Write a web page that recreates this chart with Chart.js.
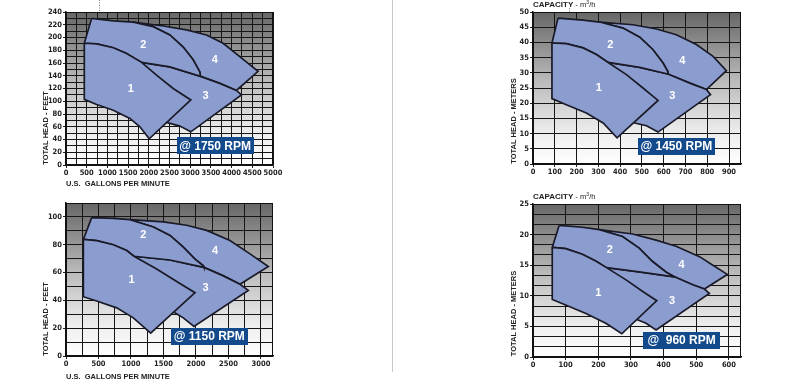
<!DOCTYPE html>
<html>
<head>
<meta charset="utf-8">
<script src="https://cdn.jsdelivr.net/npm/chart.js@4.4.1/dist/chart.umd.min.js"></script>
<style>
html, body { margin: 0; padding: 0; background: #fff; }
#wrap { position: relative; width: 797px; height: 387px; overflow: hidden; }
#wrap canvas { position: absolute; }
#divider { position: absolute; left: 392px; top: 0; width: 1px; height: 372px; background: #c9c9c9; }
</style>
</head>
<body>
<div id="wrap">
  <canvas id="c1750" width="290" height="195" style="left:0;top:0"></canvas>
  <canvas id="c1450" width="290" height="195" style="left:470px;top:0"></canvas>
  <canvas id="c1150" width="290" height="192" style="left:0;top:195px"></canvas>
  <canvas id="c960" width="290" height="197" style="left:470px;top:190px"></canvas>
  <div id="divider"></div>
</div>
<script>
// ---- 1750 RPM  (US GPM / feet) ----
var xLabels1750 = [0, 500, 1000, 1500, 2000, 2500, 3000, 3500, 4000, 4500, 5000];
var yLabels1750 = [0, 20, 40, 60, 80, 100, 120, 140, 160, 180, 200, 220, 240];
var zone1_1750 = [[442,191],[740,190],[1142,184],[1463,175],[1825,161],[2187,141],[2589,120],[3015,102],
                  [2010,41],[1785,60],[1544,73],[1142,86],[740,95],[442,103],[442,191]];
var zone2_1750 = [[619,230],[1142,226],[1624,224],[2107,217],[2508,204],[2830,185],[3071,165],[3232,146],[3248,139],
                  [2508,154],[1825,161],[1463,175],[1142,184],[740,190],[442,191],[619,230]];
var zone3_1750 = [[1825,161],[2508,154],[3248,139],[3714,128],[4116,117],[4237,110],[3015,52],[2750,61],[2468,66],
                  [2300,75],[1825,161]];
var zone4_1750 = [[1624,224],[2348,218],[2910,212],[3393,204],[3795,191],[4197,170],[4639,147],[4116,117],[3714,128],
                  [3248,139],[3232,146],[3071,165],[2830,185],[2508,204],[2107,217],[1624,224]];
var marks1750 = [[1568,120,'1'],[1865,188,'2'],[3369,108,'3'],[3594,165,'4']];
var rpm1750 = [3600, 30, '@ 1750 RPM'];

// ---- 1450 RPM  (m3/h / meters) ----
var xLabels1450 = [0, 100, 200, 300, 400, 500, 600, 700, 800, 900];
var yLabels1450 = [0, 5, 10, 15, 20, 25, 30, 35, 40, 45, 50];
var zone1_1450 = [[87,39.8],[153,39.6],[230,38.2],[291,36],[345,33.4],[429,29.4],[505,25],[574,20.9],
                  [386,8.6],[322,13.5],[245,16.8],[153,19.5],[87,21.5],[87,39.8]];
var zone2_1450 = [[115,48],[230,47.3],[306,46.7],[413,44.7],[490,41.7],[551,37.6],[597,33.2],[619,30.4],[619,29.6],
                  [490,31.8],[345,33.4],[291,36],[230,38.2],[153,39.6],[87,39.8],[115,48]];
var zone3_1450 = [[345,33.4],[490,31.8],[619,29.6],[720,26.6],[796,24.5],[815,22.8],[574,10.5],[521,12.6],[467,13.5],
                  [440,14.5],[345,33.4]];
var zone4_1450 = [[306,46.7],[459,45.8],[567,44.4],[658,42.5],[750,39.3],[827,35.4],[888,30.7],[796,24.5],[720,26.6],
                  [619,29.6],[619,30.4],[597,33.2],[551,37.6],[490,41.7],[413,44.7],[306,46.7]];
var marks1450 = [[302,25,'1'],[355,39,'2'],[640,22.3,'3'],[685,34,'4']];
var rpm1450 = [658, 5.9, '@ 1450 RPM'];

// ---- 1150 RPM  (US GPM / feet) ----
var xLabels1150 = [0, 500, 1000, 1500, 2000, 2500, 3000];
var yLabels1150 = [0, 20, 40, 60, 80, 100];
var zone1_1150 = [[267,83.8],[472,83],[728,80],[934,75.8],[1046,71.7],[1395,62.5],[1703,53.5],[1985,45.5],
                  [1303,16.5],[1036,27.4],[780,34.6],[472,39.5],[267,42.6],[267,83.8]];
var zone2_1150 = [[395,99.5],[728,99],[985,98],[1344,92.7],[1600,86.7],[1805,78.2],[1985,69.7],[2113,64.9],[2123,63.7],
                  [1600,69],[1046,71.7],[934,75.8],[728,80],[472,83],[267,83.8],[395,99.5]];
var zone3_1150 = [[1046,71.7],[1600,69],[2123,63.7],[2421,57.6],[2677,51.6],[2805,47.2],[1969,21.3],[1805,27.4],[1662,31.5],
                  [1550,33],[1046,71.7]];
var zone4_1150 = [[985,98],[1497,96.4],[1856,94],[2164,90.3],[2523,83],[2831,73.4],[3113,64.4],[2677,51.6],[2421,57.6],
                  [2123,63.7],[2113,64.9],[1985,69.7],[1805,78.2],[1600,86.7],[1344,92.7],[985,98]];
var marks1150 = [[1010,54.7,'1'],[1190,86.7,'2'],[2149,49,'3'],[2292,75.3,'4']];
var rpm1150 = [2205, 14.3, '@ 1150 RPM'];

// ---- 960 RPM  (m3/h / meters) ----
var xLabels960 = [0, 100, 200, 300, 400, 500, 600];
var yLabels960 = [0, 5, 10, 15, 20, 25];
var zone1_960 = [[59,17.9],[100,17.7],[151,16.8],[192,15.7],[225,14.6],[285,12.6],[336,10.7],[379,9.2],
                 [272,3.8],[223,5.5],[162,7.1],[100,8.5],[59,9.4],[59,17.9]];
var zone2_960 = [[80,21.5],[151,21.2],[203,20.8],[274,19.7],[325,17.8],[366,15.6],[407,13.9],[433,13.1],
                 [325,13.9],[225,14.6],[192,15.7],[151,16.8],[100,17.7],[59,17.9],[80,21.5]];
var zone3_960 = [[225,14.6],[325,13.9],[433,13.1],[489,11.8],[525,11.1],[540,10.4],[377,4.4],[346,5.5],[320,6.1],
                 [300,6.5],[225,14.6]];
var zone4_960 = [[203,20.8],[305,20.1],[377,19.1],[438,18.1],[510,16.4],[551,15],[595,13.5],[525,11.1],[489,11.8],
                 [433,13.1],[407,13.9],[366,15.6],[325,17.8],[274,19.7],[203,20.8]];
var marks960 = [[200,10.4,'1'],[235,17.5,'2'],[426,9.1,'3'],[455,15,'4']];
var rpm960 = [455, 2.7, '@  960 RPM'];

var TICK_FONT = { family: "'Liberation Sans Narrow', 'DejaVu Sans Condensed', Arial, sans-serif", size: 7.5, weight: 'bold' };
var ZONE_FILL = '#8b9dcf';
var ZONE_LINE = '#1a1a28';

function has(list, v) {
    for (var i = 0; i < list.length; i++) if (Math.abs(list[i] - v) < 1e-6) return true;
    return false;
}

function axis(max, step, labels, size, isX) {
    return {
        type: 'linear', min: 0, max: max,
        afterBuildTicks: function (s) {
            var t = [];
            for (var v = 0; v <= max + 1e-9; v += step) t.push({ value: +v.toFixed(4) });
            s.ticks = t;
        },
        afterFit: function (s) {
            if (isX) s.height = size; else s.width = size;
        },
        grid: {
            color: '#161616', lineWidth: 1, tickLength: 3,
            tickColor: function (c) { return c.tick && has(labels, c.tick.value) ? '#222' : 'rgba(0,0,0,0)'; }
        },
        border: { color: '#111', width: 1.5 },
        ticks: {
            autoSkip: false, maxRotation: 0, padding: 1, color: '#222', font: TICK_FONT,
            callback: function (v) { return has(labels, v) ? String(v) : ''; }
        }
    };
}

var decoPlugin = {
    id: 'deco',
    beforeDraw: function (chart) {
        var a = chart.chartArea, ctx = chart.ctx;
        var g = ctx.createLinearGradient(0, a.top, 0, a.bottom);
        g.addColorStop(0, '#666');
        g.addColorStop(0.45, '#bababa');
        g.addColorStop(0.8, '#eeeeee');
        g.addColorStop(1, '#ffffff');
        ctx.save();
        ctx.fillStyle = g;
        ctx.fillRect(a.left, a.top, a.right - a.left, a.bottom - a.top);
        ctx.restore();
    },
    beforeDatasetsDraw: function (chart) {
        var a = chart.chartArea, ctx = chart.ctx;
        ctx.save();
        ctx.strokeStyle = '#111';
        ctx.lineWidth = 1;
        ctx.strokeRect(a.left, a.top + 0.5, a.right - a.left - 0.5, a.bottom - a.top);
        ctx.restore();
    },
    afterDatasetsDraw: function (chart, args, opts) {
        var ctx = chart.ctx, sx = chart.scales.x, sy = chart.scales.y;
        ctx.save();
        ctx.fillStyle = '#fff';
        ctx.textAlign = 'center';
        ctx.textBaseline = 'middle';
        ctx.font = "bold 11px 'Liberation Sans', Arial, sans-serif";
        opts.marks.forEach(function (m) {
            ctx.fillText(m[2], sx.getPixelForValue(m[0]), sy.getPixelForValue(m[1]));
        });
        var bx = sx.getPixelForValue(opts.rpm[0]), by = sy.getPixelForValue(opts.rpm[1]);
        ctx.fillStyle = '#124a8c';
        ctx.fillRect(Math.round(bx - 38.5), Math.round(by - 8.5), 77, 17);
        ctx.fillStyle = '#fff';
        ctx.font = "bold 12px 'Liberation Sans', Arial, sans-serif";
        ctx.fillText(opts.rpm[2], bx, by + 0.5);
        ctx.restore();
    },
    afterDraw: function (chart, args, opts) {
        var ctx = chart.ctx;
        ctx.save();
        ctx.fillStyle = '#222';
        ctx.font = "bold 7.5px 'Liberation Sans', Arial, sans-serif";
        ctx.textBaseline = 'middle';
        ctx.save();
        ctx.translate(opts.yTitle[0], opts.yTitle[1]);
        ctx.rotate(-Math.PI / 2);
        ctx.textAlign = 'center';
        ctx.fillText(opts.yTitle[2], 0, 0);
        ctx.restore();
        ctx.textAlign = 'left';
        if (opts.xTitle) ctx.fillText(opts.xTitle[2], opts.xTitle[0], opts.xTitle[1]);
        if (opts.capTitle) {
            var t = opts.capTitle;
            ctx.font = "bold 8px 'Liberation Sans', Arial, sans-serif";
            ctx.fillText('CAPACITY', t[0], t[1]);
            var w = ctx.measureText('CAPACITY').width;
            ctx.font = "7.5px 'Liberation Sans', Arial, sans-serif";
            ctx.fillText(' - m', t[0] + w, t[1]);
            var w2 = ctx.measureText(' - m').width;
            ctx.font = "5px 'Liberation Sans', Arial, sans-serif";
            ctx.fillText('3', t[0] + w + w2, t[1] - 2);
            ctx.font = "7.5px 'Liberation Sans', Arial, sans-serif";
            ctx.fillText('/h', t[0] + w + w2 + 3, t[1]);
        }
        if (opts.dotAt !== undefined) {
            var px = Math.round(chart.scales.x.getPixelForValue(opts.dotAt)) + 0.5;
            ctx.strokeStyle = '#777';
            ctx.lineWidth = 1;
            ctx.setLineDash([1, 1.5]);
            ctx.beginPath();
            ctx.moveTo(px, opts.dotFrom);
            ctx.lineTo(px, chart.chartArea.top);
            ctx.stroke();
        }
        ctx.restore();
    }
};

function zone(data) {
    return {
        data: data, showLine: true, fill: 'shape',
        backgroundColor: ZONE_FILL, borderColor: ZONE_LINE, borderWidth: 1.7,
        pointRadius: 0, pointHoverRadius: 0, tension: 0
    };
}

function makePanel(id, zones, xAx, yAx, pad, deco) {
    return new Chart(document.getElementById(id), {
        type: 'scatter',
        data: { datasets: [zone(zones[0]), zone(zones[1]), zone(zones[2]), zone(zones[3])] },
        options: {
            responsive: false, animation: false, events: [],
            layout: { padding: { left: 0, top: pad[0], right: pad[1], bottom: 0 } },
            plugins: { legend: { display: false }, tooltip: { enabled: false }, deco: deco },
            scales: { x: xAx, y: yAx }
        },
        plugins: [decoPlugin]
    });
}

makePanel('c1750', [zone1_1750, zone2_1750, zone3_1750, zone4_1750],
    axis(5000, 250, xLabels1750, 30, true), axis(240, 10, yLabels1750, 66, false), [12, 17],
    { marks: marks1750, rpm: rpm1750, yTitle: [46, 128, 'TOTAL HEAD - FEET'],
      xTitle: [66, 184, 'U.S.  GALLONS PER MINUTE'], dotAt: 800, dotFrom: 0 });

makePanel('c1450', [zone1_1450, zone2_1450, zone3_1450, zone4_1450],
    axis(955, 100, xLabels1450, 31, true), axis(50, 5, yLabels1450, 63, false), [12, 19],
    { marks: marks1450, rpm: rpm1450, yTitle: [44, 121, 'TOTAL HEAD - METERS'],
      capTitle: [63, 5], dotAt: 165, dotFrom: 8 });

makePanel('c1150', [zone1_1150, zone2_1150, zone3_1150, zone4_1150],
    axis(3185, 250, xLabels1150, 31, true), axis(110, 10, yLabels1150, 66, false), [8, 17],
    { marks: marks1150, rpm: rpm1150, yTitle: [46, 124, 'TOTAL HEAD - FEET'],
      xTitle: [66, 182, 'U.S.  GALLONS PER MINUTE'] });

makePanel('c960', [zone1_960, zone2_960, zone3_960, zone4_960],
    axis(637, 100, xLabels960, 30, true), axis(25, 5 / 3, yLabels960, 63, false), [14, 19],
    { marks: marks960, rpm: rpm960, yTitle: [44, 123.5, 'TOTAL HEAD - METERS'],
      capTitle: [63, 7] });
</script>
</body>
</html>
